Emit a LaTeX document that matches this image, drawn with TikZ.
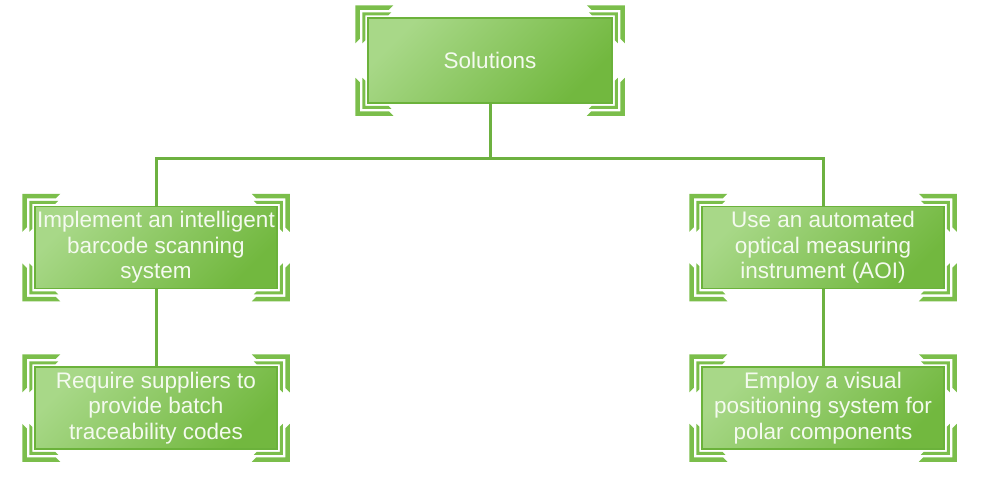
\documentclass[tikz,border=0pt]{standalone}
\usepackage{fontspec}
\setmainfont{Liberation Sans}
\usepackage{tikz}
\usetikzlibrary{calc}
\usetikzlibrary{positioning}

\definecolor{boxlight}{HTML}{A8D888}
\definecolor{boxdark}{HTML}{72B83F}
\definecolor{boxedge}{HTML}{6BB23B}
\definecolor{boxtext}{HTML}{F4FAEF}
\definecolor{framegreen}{HTML}{7BBE4B}
\definecolor{linkgreen}{HTML}{6DB140}

\tikzset{
    solbox/.style={rectangle, draw=boxedge, line width=1.5pt,
        top color=boxlight, bottom color=boxdark, shading angle=45,
        text=boxtext, align=center, inner sep=0pt,
        font=\fontsize{22.5}{25.5}\selectfont},
    link/.style={draw=linkgreen, line width=3pt},
    bracket/.style={fill=framegreen}
}

% Corner brackets round a box
\newcommand{\framecorners}[1]{
    \foreach \anc/\sx/\sy in {north west/1/1, north east/-1/1, south west/1/-1, south east/-1/-1}
    {
        \begin{scope}[shift={(#1.\anc)}, xscale=\sx, yscale=\sy]
            \fill[bracket] (-12,-26) -- (-12,12) -- (26,12) -- (21.5,7.5) -- (-7.5,7.5) -- (-7.5,-21.5) -- cycle;
            \fill[bracket] (-5,-26) -- (-5,5) -- (24,5) -- (21,2) -- (-2,2) -- (-2,-23) -- cycle;
        \end{scope}
    }
}

\begin{document}
\begin{tikzpicture}[x=1pt, y=1pt]

\useasboundingbox (0,0) rectangle (984,-485);

% Top box
\node[solbox, minimum width=244pt, minimum height=85pt] (sol) at (490,-60.5) {Solutions};

% First level
\node[solbox, minimum width=242pt, minimum height=82pt] (barcode) at (156,-247.5)
    {Implement an intelligent\\barcode scanning\\system};
\node[solbox, minimum width=242pt, minimum height=82pt] (aoi) at (823,-247.5)
    {Use an automated\\optical measuring\\instrument (AOI)};

% Second level
\node[solbox, minimum width=242pt, minimum height=82pt] (supplier) at (156,-408)
    {Require suppliers to\\provide batch\\traceability codes};
\node[solbox, minimum width=242pt, minimum height=82pt] (visual) at (823,-408)
    {Employ a visual\\positioning system for\\polar components};

% Connectors
\coordinate (split) at (490,-158);
\draw[link] (sol.south) -- (split);
\draw[link] (split) -| (barcode.north);
\draw[link] (split) -| (aoi.north);
\draw[link] (barcode.south) -- (supplier.north);
\draw[link] (aoi.south) -- (visual.north);

% Corner brackets
\foreach \nodename in {sol, barcode, aoi, supplier, visual}
{
    \framecorners{\nodename}
}

\end{tikzpicture}
\end{document}
